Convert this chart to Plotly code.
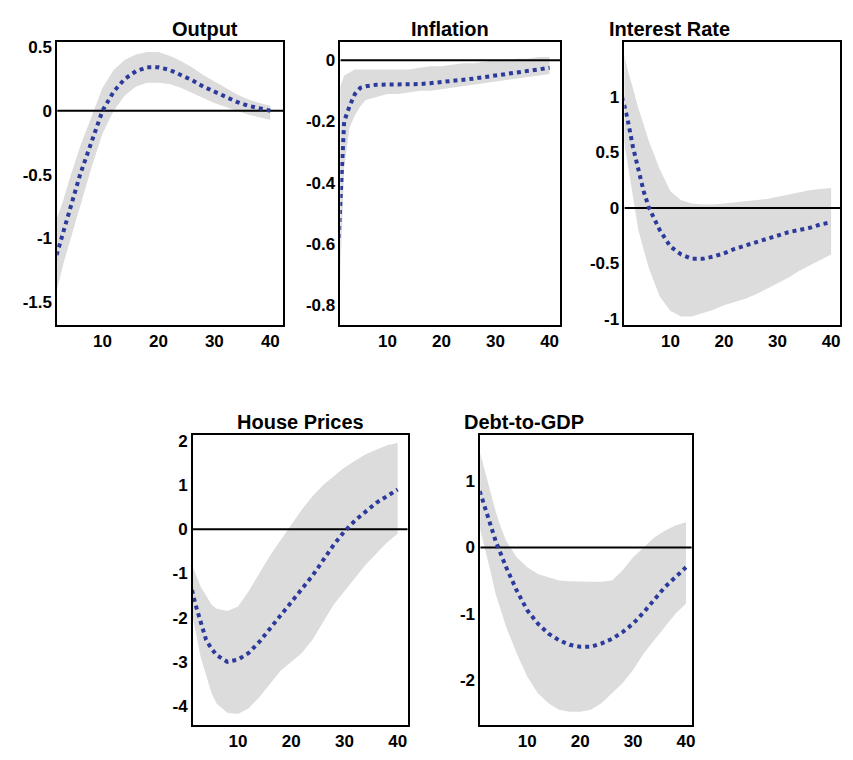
import plotly.graph_objects as go

t = [1,2,3,4,5,6,8,10,12,14,16,18,20,22,24,26,28,30,32,34,36,38,40]

out_med = [-1.25,-1.1,-0.95,-0.8,-0.65,-0.5,-0.25,0.0,0.15,0.25,0.31,0.34,0.34,0.32,0.28,0.24,0.19,0.15,0.11,0.07,0.04,0.02,0.0]
out_lo = [-1.55,-1.38,-1.2,-1.05,-0.9,-0.75,-0.45,-0.18,0.0,0.12,0.19,0.22,0.22,0.21,0.18,0.14,0.1,0.06,0.03,0.0,-0.03,-0.05,-0.07]
out_hi = [-0.95,-0.82,-0.7,-0.55,-0.42,-0.28,-0.05,0.18,0.32,0.4,0.44,0.46,0.46,0.43,0.39,0.34,0.28,0.23,0.18,0.13,0.09,0.06,0.04]

inf_med = [-0.58,-0.2,-0.15,-0.11,-0.09,-0.085,-0.08,-0.08,-0.08,-0.08,-0.078,-0.075,-0.072,-0.068,-0.064,-0.06,-0.055,-0.05,-0.045,-0.04,-0.035,-0.03,-0.025]
inf_lo = [-0.85,-0.35,-0.22,-0.18,-0.15,-0.13,-0.12,-0.11,-0.11,-0.105,-0.1,-0.1,-0.095,-0.09,-0.085,-0.08,-0.075,-0.07,-0.065,-0.06,-0.055,-0.05,-0.045]
inf_hi = [-0.1,-0.05,-0.04,-0.03,-0.03,-0.03,-0.03,-0.03,-0.03,-0.03,-0.025,-0.02,-0.02,-0.015,-0.01,-0.01,-0.005,0,0,0.005,0.005,0.01,0.01]

int_med = [1.0,0.8,0.55,0.35,0.15,0.0,-0.2,-0.35,-0.42,-0.46,-0.46,-0.44,-0.41,-0.37,-0.34,-0.31,-0.28,-0.25,-0.22,-0.2,-0.18,-0.15,-0.13]
int_lo = [0.7,0.4,0.1,-0.2,-0.38,-0.55,-0.8,-0.93,-0.98,-0.98,-0.95,-0.92,-0.88,-0.85,-0.82,-0.78,-0.73,-0.68,-0.63,-0.57,-0.52,-0.47,-0.42]
int_hi = [1.45,1.25,1.08,0.9,0.75,0.6,0.35,0.15,0.07,0.04,0.03,0.03,0.04,0.05,0.06,0.07,0.08,0.1,0.12,0.14,0.16,0.17,0.18]

hp_med = [-1.2,-1.7,-2.1,-2.5,-2.7,-2.85,-3.0,-2.95,-2.8,-2.55,-2.25,-1.95,-1.65,-1.35,-1.05,-0.7,-0.35,-0.05,0.2,0.4,0.6,0.75,0.9]
hp_lo = [-1.7,-2.3,-2.9,-3.3,-3.7,-3.95,-4.15,-4.18,-4.05,-3.8,-3.5,-3.2,-3.0,-2.8,-2.5,-2.1,-1.7,-1.4,-1.1,-0.8,-0.55,-0.3,-0.1]
hp_hi = [-0.7,-1.0,-1.3,-1.5,-1.7,-1.8,-1.85,-1.75,-1.4,-1.0,-0.6,-0.25,0.1,0.45,0.75,1.0,1.2,1.4,1.55,1.7,1.8,1.9,1.95]

dg_med = [0.85,0.6,0.35,0.1,-0.1,-0.3,-0.65,-0.95,-1.15,-1.3,-1.4,-1.47,-1.5,-1.5,-1.45,-1.38,-1.28,-1.15,-0.98,-0.8,-0.6,-0.45,-0.3]
dg_lo = [0.3,0.0,-0.35,-0.7,-0.95,-1.2,-1.6,-1.95,-2.2,-2.35,-2.45,-2.48,-2.48,-2.45,-2.35,-2.2,-2.05,-1.85,-1.6,-1.4,-1.2,-1.0,-0.85]
dg_hi = [1.45,1.15,0.85,0.55,0.3,0.1,-0.15,-0.3,-0.4,-0.45,-0.5,-0.51,-0.52,-0.52,-0.52,-0.5,-0.35,-0.15,0.0,0.15,0.25,0.33,0.38]

x_ticks = [10, 20, 30, 40]

panels = [
    ("Output", out_med, out_lo, out_hi, [0.067,0.332], [0.572,0.945], [1.9,42.3], [-1.68,0.54], [-1.5,-1,-0.5,0,0.5]),
    ("Inflation", inf_med, inf_lo, inf_hi, [0.399,0.657], [0.572,0.945], [1.3,42], [-0.865,0.06], [-0.8,-0.6,-0.4,-0.2,0]),
    ("Interest Rate", int_med, int_lo, int_hi, [0.732,0.985], [0.572,0.945], [1.4,41.7], [-1.06,1.5], [-1,-0.5,0,0.5,1]),
    ("House Prices", hp_med, hp_lo, hp_hi, [0.226,0.478], [0.046,0.428], [1.5,41.9], [-4.43,2.14], [-4,-3,-2,-1,0,1,2]),
    ("Debt-to-GDP", dg_med, dg_lo, dg_hi, [0.563,0.811], [0.046,0.428], [1.1,41.1], [-2.68,1.7], [-2,-1,0,1]),
]
DX = -8 / 853
DY = 8 / 760

def lab(v):
    return "<b>" + ("%g" % v) + "</b>"

fig = go.Figure()
layout = {}
font = dict(family="Arial, Liberation Sans", size=17, color="black")
for i, (title, med, lo, hi, xd, yd, xr, yr, yt) in enumerate(panels):
    xd = [xd[0] + DX, xd[1] + DX]
    yd = [yd[0] + DY, yd[1] + DY]
    n = "" if i == 0 else str(i + 1)
    xa, ya = "x" + n, "y" + n
    fig.add_trace(go.Scatter(x=t + t[::-1], y=hi + lo[::-1], fill="toself", fillcolor="#dcdcdc",
                             line=dict(width=0), xaxis=xa, yaxis=ya, showlegend=False, hoverinfo="skip"))
    fig.add_trace(go.Scatter(x=[xr[0], xr[1]], y=[0, 0], mode="lines", line=dict(color="black", width=2),
                             xaxis=xa, yaxis=ya, showlegend=False))
    fig.add_trace(go.Scatter(x=t, y=med, mode="lines", line=dict(color="#2b3a9b", width=4, dash="dot"),
                             xaxis=xa, yaxis=ya, showlegend=False))
    layout["xaxis" + n] = dict(domain=xd, range=xr, anchor=ya, tickvals=x_ticks, ticktext=[lab(v) for v in x_ticks],
                               showgrid=False, automargin=False,
                               zeroline=False, showline=True, mirror=True, linecolor="black", linewidth=1.5,
                               tickfont=font, ticks="")
    layout["yaxis" + n] = dict(domain=yd, range=yr, anchor=xa, tickvals=yt, ticktext=[lab(v) for v in yt],
                               showgrid=False, automargin=False,
                               zeroline=False, showline=True, mirror=True, linecolor="black", linewidth=1.5,
                               tickfont=font, ticks="")
    fig.add_annotation(text="<b>" + title + "</b>", x=(xd[0] + xd[1]) / 2, y=yd[1], xref="paper", yref="paper",
                       yanchor="bottom", showarrow=False, font=dict(family="Arial, Liberation Sans", size=20, color="black"))

fig.update_layout(**layout, width=853, height=760, margin=dict(l=0, r=0, t=0, b=0, autoexpand=False),
                  plot_bgcolor="white", paper_bgcolor="white")
fig.write_html("out.html")
